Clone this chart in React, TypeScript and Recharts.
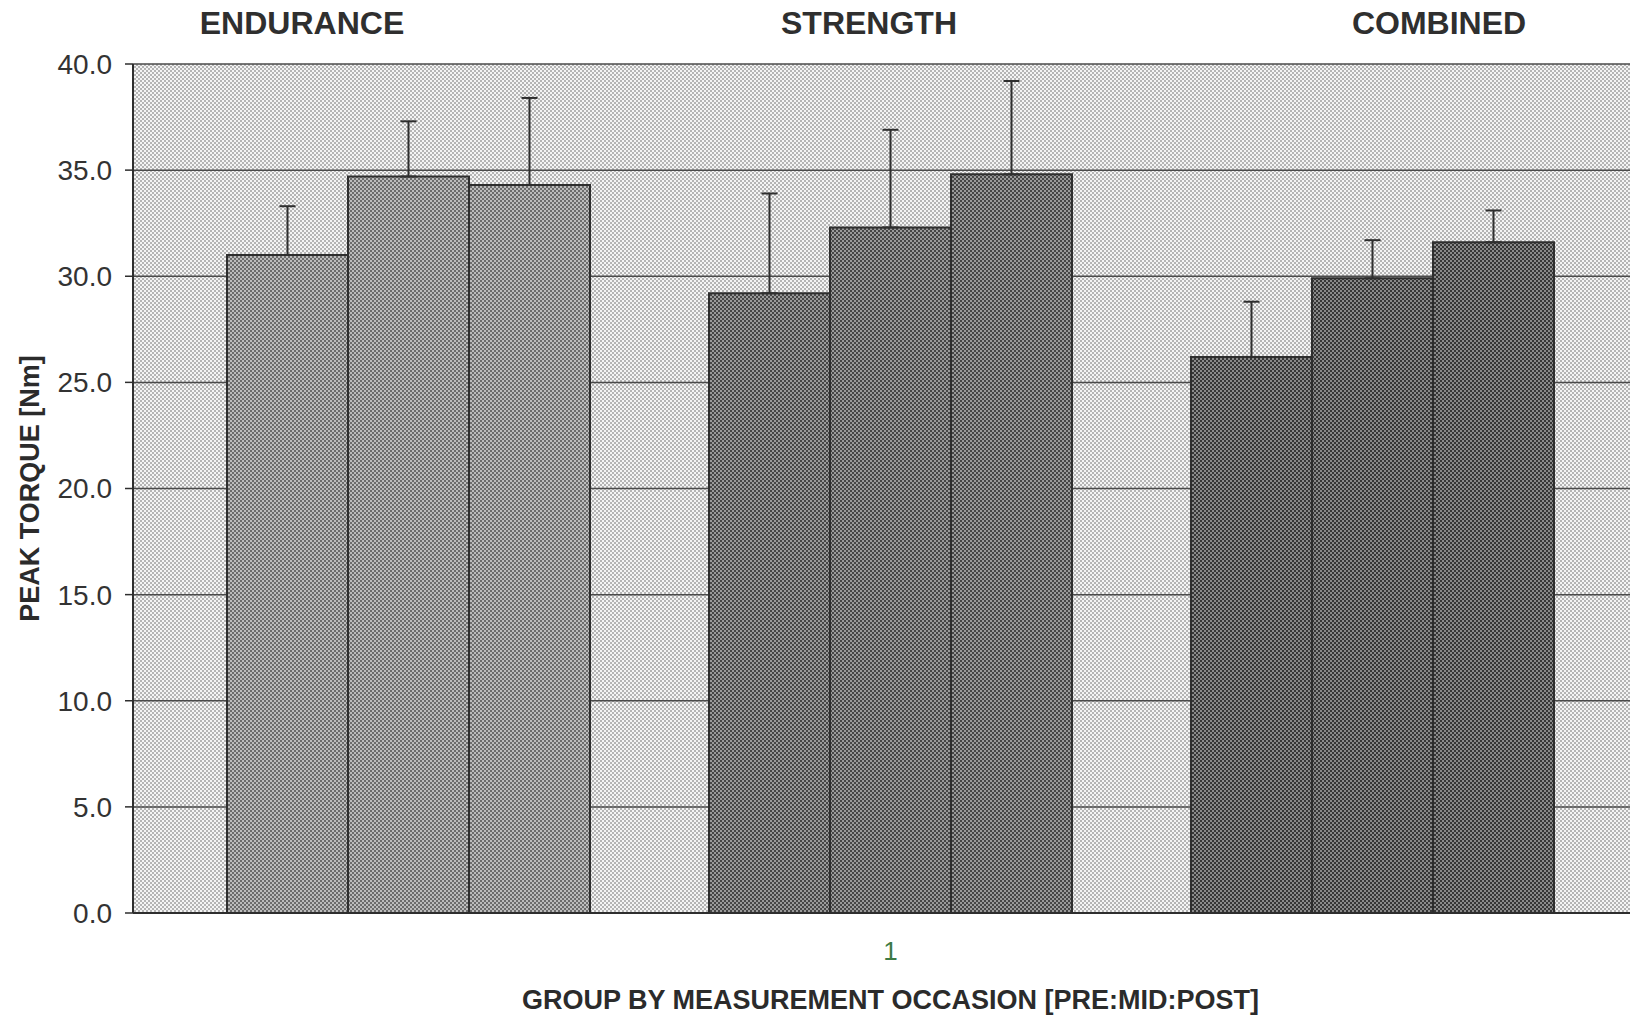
import { Bar, BarChart, CartesianGrid, Cell, ErrorBar, Label, XAxis, YAxis } from "recharts";

const groups = ["ENDURANCE", "STRENGTH", "COMBINED"];
const preValues = [31.0, 29.2, 26.2];
const midValues = [34.7, 32.3, 29.9];
const postValues = [34.3, 34.8, 31.6];
const preSd = [2.3, 4.7, 2.6];
const midSd = [2.6, 4.6, 1.8];
const postSd = [4.1, 4.4, 1.5];
const yTicks = [0, 5, 10, 15, 20, 25, 30, 35, 40];
const occasionTicks = [1];

const groupFills = ["url(#dotsEndurance)", "url(#dotsStrength)", "url(#dotsCombined)"];

// only the upper whisker is drawn in the original, so the lower error is 0
const rows = groups.map((group, i) => ({
  group,
  pre: preValues[i],
  mid: midValues[i],
  post: postValues[i],
  preErr: [0, preSd[i]],
  midErr: [0, midSd[i]],
  postErr: [0, postSd[i]],
}));

const ink = "#2e2e2e";
const font = "Arial, 'Liberation Sans', sans-serif";

function Dots({ id, light, dark }: { id: string; light: string; dark: string }) {
  return (
    <pattern id={id} width={4} height={4} patternUnits="userSpaceOnUse">
      <rect width={4} height={4} fill={light} />
      <rect width={2} height={2} fill={dark} />
      <rect x={2} y={2} width={2} height={2} fill={dark} />
    </pattern>
  );
}

const titleStyle = {
  position: "absolute" as const,
  top: 5,
  fontSize: 32,
  lineHeight: "36px",
  fontWeight: 700,
  color: "#2f2f2f",
  transform: "translateX(-50%)",
  whiteSpace: "nowrap" as const,
};

export default function App() {
  const series = [
    { key: "pre", err: "preErr" },
    { key: "mid", err: "midErr" },
    { key: "post", err: "postErr" },
  ];

  return (
    <div
      style={{
        position: "absolute",
        left: 0,
        top: 0,
        width: 1630,
        height: 1018,
        overflow: "hidden",
        background: "#fff",
        fontFamily: font,
      }}
    >
      <svg width={0} height={0} style={{ position: "absolute" }}>
        <defs>
          <Dots id="dotsBg" light="#f4f4f4" dark="#b4b4b4" />
          <Dots id="dotsEndurance" light="#bcbcbc" dark="#6c6c6c" />
          <Dots id="dotsStrength" light="#9a9a9a" dark="#464646" />
          <Dots id="dotsCombined" light="#8a8a8a" dark="#363636" />
        </defs>
      </svg>

      <div style={{ ...titleStyle, left: 302 }}>ENDURANCE</div>
      <div style={{ ...titleStyle, left: 869 }}>STRENGTH</div>
      <div style={{ ...titleStyle, left: 1439 }}>COMBINED</div>

      <BarChart
        width={1660}
        height={1018}
        data={rows}
        margin={{ top: 64, right: 12, bottom: 0, left: 0 }}
        barCategoryGap={59}
        barGap={0}
        style={{ fontFamily: font }}
      >
        <CartesianGrid
          xAxisId="cat"
          vertical={false}
          stroke="#4a4a4a"
          strokeWidth={1.5}
          fill="url(#dotsBg)"
          fillOpacity={1}
        />
        <XAxis xAxisId="cat" dataKey="group" hide height={0} padding={{ left: 35, right: 34 }} />
        <XAxis
          xAxisId="occ"
          type="number"
          domain={[0, 2]}
          ticks={occasionTicks}
          tickFormatter={(v) => String(v)}
          height={105}
          tickLine={false}
          tickSize={0}
          tickMargin={29}
          axisLine={{ stroke: ink, strokeWidth: 2 }}
          tick={{ fill: "#3d7a45", fontSize: 26 }}
        >
          <Label
            value="GROUP BY MEASUREMENT OCCASION [PRE:MID:POST]"
            position="insideBottom"
            offset={9}
            style={{ fill: "#2b2b2b", fontSize: 27, fontWeight: 700 }}
          />
        </XAxis>
        <YAxis
          domain={[0, 40]}
          ticks={yTicks}
          width={133}
          tickSize={8}
          tickMargin={13}
          tickFormatter={(v) => Number(v).toFixed(1)}
          axisLine={{ stroke: ink, strokeWidth: 2 }}
          tickLine={{ stroke: ink, strokeWidth: 1.5 }}
          tick={{ fill: "#333", fontSize: 28 }}
        >
          <Label
            value="PEAK TORQUE [Nm]"
            angle={-90}
            position="insideLeft"
            offset={29}
            style={{ fill: "#2b2b2b", fontSize: 27, fontWeight: 700, textAnchor: "middle" }}
          />
        </YAxis>
        {series.map((s) => (
          <Bar
            key={s.key}
            xAxisId="cat"
            dataKey={s.key}
            stroke={ink}
            strokeWidth={2}
            isAnimationActive={false}
          >
            {rows.map((r, i) => (
              <Cell key={r.group} fill={groupFills[i]} />
            ))}
            <ErrorBar dataKey={s.err} width={8} stroke={ink} strokeWidth={2} />
          </Bar>
        ))}
      </BarChart>
    </div>
  );
}
